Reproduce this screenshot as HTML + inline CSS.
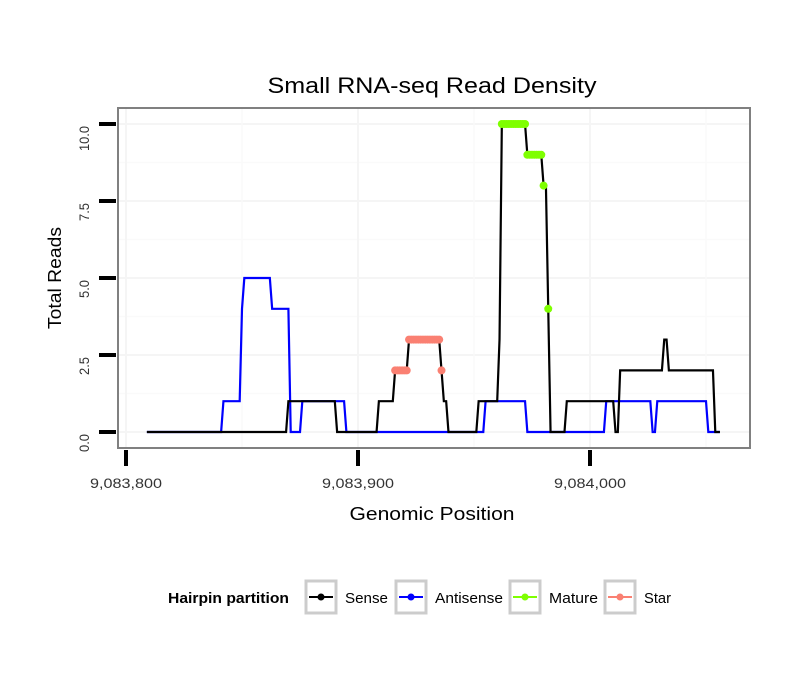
<!DOCTYPE html>
<html><head><meta charset="utf-8"><style>
body{margin:0;background:#fff;}
svg text{font-family:"Liberation Sans",sans-serif;}
</style></head><body>
<svg id="chart" width="810" height="690" xmlns="http://www.w3.org/2000/svg">
<rect width="810" height="690" fill="#fff"/>
<text x="432" y="93" font-size="22" text-anchor="middle" textLength="329" lengthAdjust="spacingAndGlyphs">Small RNA-seq Read Density</text>
<g id="grid"></g>
<g id="series"></g>
<rect x="118" y="108" width="632" height="340" fill="none" stroke="#808080" stroke-width="2"/>
<g id="axes"></g>
<text x="432" y="520" font-size="18" text-anchor="middle" textLength="165" lengthAdjust="spacingAndGlyphs">Genomic Position</text>
<text transform="translate(61,278) rotate(-90)" font-size="18" text-anchor="middle" textLength="102" lengthAdjust="spacingAndGlyphs">Total Reads</text>
<g id="legend"></g>
</svg>
<script>
const startPos = 9083809;
const senseRuns = [[0,61],[1,21],[0,18],[1,7],[2,6],[3,14],[2,1],[1,2],[0,13],[1,9],[3,1],[10,11],[9,7],[8,2],[4,1],[0,7],[1,21],[0,2],[2,19],[3,2],[2,20],[0,3]];
const antisenseRuns = [[0,33],[1,8],[4,1],[5,12],[4,8],[0,5],[1,19],[0,60],[1,18],[0,34],[1,20],[0,2],[1,22],[0,6]];
const maturePoints = [[9083962,9083972,10],[9083973,9083979,9],[9083980,9083980,8],[9083982,9083982,4]];
const starPoints = [[9083916,9083921,2],[9083922,9083935,3],[9083936,9083936,2]];
const yTicks = [0,2.5,5,7.5,10];
const yTickLabels = ["0.0","2.5","5.0","7.5","10.0"];
const xTicks = [9083800,9083900,9084000];
const xTickLabels = ["9,083,800","9,083,900","9,084,000"];
const legendLabels = ["Sense","Antisense","Mature","Star"];
const legendColors = ["#000000","#0000ff","#7fff00","#fa8072"];

const X = p => 126 + (p - 9083800) * 2.32;
const Y = v => 432 - v * 30.8;
const NS = "http://www.w3.org/2000/svg";
function mk(tag, parent, attrs){const e=document.createElementNS(NS,tag);for(const k in attrs)e.setAttribute(k,attrs[k]);parent.appendChild(e);return e;}

const grid=document.getElementById('grid');
for(let v=-1.25; v<=11.25; v+=1.25){ const y=Y(v); if(y<109||y>447)continue;
  const major = Math.abs(v/2.5-Math.round(v/2.5))<1e-6;
  const l=mk('line',grid,{x1:119,x2:749,y1:y,y2:y,stroke:major?'#f5f5f5':'#fafafa','stroke-width':major?2:1.5});
  
  
}
for(let p=9083750;p<=9084100;p+=50){const x=X(p); if(x<119||x>749)continue;
  const major = p%100===0;
  const l=mk('line',grid,{x1:x,x2:x,y1:109,y2:447,stroke:major?'#f5f5f5':'#fafafa','stroke-width':major?2:1.5});
  
  
}

function runPts(runs){const pts=[];let p=startPos;for(const [v,n] of runs){for(let i=0;i<n;i++){pts.push([X(p),Y(v)]);p++;}}return pts;}
const ser=document.getElementById('series');
const al=mk('polyline',ser,{points:runPts(antisenseRuns).map(a=>a.join(',')).join(' '),fill:'none',stroke:'#0000ff','stroke-width':2.2});


const sl=mk('polyline',ser,{points:runPts(senseRuns).map(a=>a.join(',')).join(' '),fill:'none',stroke:'#000','stroke-width':2.2});


function dots(list,color,name){for(const [a,b,v] of list){for(let p=a;p<=b;p++){const c=mk('circle',ser,{cx:X(p),cy:Y(v),r:4,fill:color});
  
  }}}
dots(maturePoints,'#7fff00','mature-point');
dots(starPoints,'#fa8072','star-point');

const axes=document.getElementById('axes');
yTicks.forEach((v,i)=>{const y=Y(v);
  const t=mk('line',axes,{x1:99,x2:116,y1:y,y2:y,stroke:'#000','stroke-width':4});
  
  
  const len = yTickLabels[i].length===4?25:18;
  const tx=mk('text',axes,{transform:`translate(89,${y+2}) rotate(-90)`,'font-size':14,'text-anchor':'end',fill:'#333',textLength:len,lengthAdjust:'spacingAndGlyphs'});
  tx.textContent=yTickLabels[i];
  
  
});
xTicks.forEach((p,i)=>{const x=X(p);
  const t=mk('line',axes,{x1:x,x2:x,y1:450,y2:466,stroke:'#000','stroke-width':4});
  
  
  const tx=mk('text',axes,{x:x,y:488,'font-size':14,'text-anchor':'middle',fill:'#333',textLength:72,lengthAdjust:'spacingAndGlyphs'});
  tx.textContent=xTickLabels[i];
  
  
});

const lg=document.getElementById('legend');
const lt=mk('text',lg,{x:168,y:603,'font-size':15,'font-weight':'bold',textLength:121,lengthAdjust:'spacingAndGlyphs'});
lt.textContent='Hairpin partition';


const boxX=[306,396,510,605];
const labLen=[43,68,49,27];
legendLabels.forEach((lab,i)=>{const bx=boxX[i];
  const g=mk('g',lg,{});
  
  
  mk('rect',g,{x:bx,y:581,width:30,height:32,fill:'#fff',stroke:'#cccccc','stroke-width':3});
  mk('line',g,{x1:bx+3,x2:bx+27,y1:597,y2:597,stroke:legendColors[i],'stroke-width':2});
  mk('circle',g,{cx:bx+15,cy:597,r:3.5,fill:legendColors[i]});
  const t=mk('text',g,{x:bx+39,y:603,'font-size':15,fill:'#000',textLength:labLen[i],lengthAdjust:'spacingAndGlyphs'});
  t.textContent=lab;
});
</script>
</body></html>
